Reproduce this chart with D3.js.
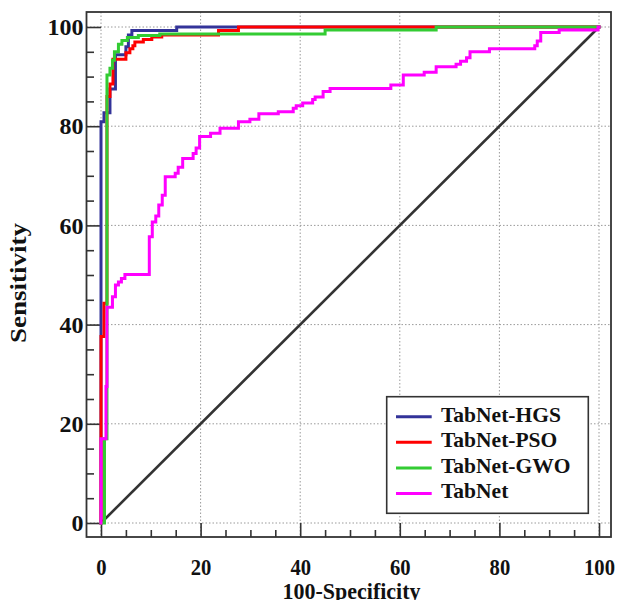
<!DOCTYPE html>
<html>
<head>
<meta charset="utf-8">
<script src="https://cdn.jsdelivr.net/npm/d3@7"></script>
<style>
html,body{margin:0;padding:0;background:#fff;}
svg{display:block;}
text{font-family:"Liberation Serif","Times New Roman",serif;font-weight:bold;fill:#111;}
</style>
</head>
<body>
<svg id="chart" width="617" height="600"></svg>
<script>
// ---- data (100-Specificity, Sensitivity) step points ----
const seriesNames = ["TabNet-HGS", "TabNet-PSO", "TabNet-GWO", "TabNet"];
const seriesColors = ["#333399", "#ff0000", "#33cc33", "#ff00ff"];

const hgsX = [0, 0.6, 1.8, 2.9, 5.0, 5.5, 6.2, 15.2, 100];
const hgsY = [0, 80.9, 82.7, 87.5, 94.4, 96, 98.4, 99.3, 100];

const psoX = [0, 0.6, 1.2, 1.8, 2.4, 5.0, 5.8, 6.4, 6.8, 8.5, 10.2, 12.2, 23.6, 27.6, 100];
const psoY = [0, 37.6, 44.3, 86, 88.5, 93.5, 94.8, 95.6, 96.2, 97, 97.5, 98, 98.4, 99.3, 100];

const gwoX = [0, 0.7, 1.2, 1.8, 2.3, 2.7, 3.5, 4.2, 5.3, 7.5, 11.8, 45, 67.3, 100];
const gwoY = [0, 0, 17, 90.3, 91.7, 93.3, 95, 96.5, 97.3, 97.9, 98.3, 98.6, 99.4, 100];

const tabX = [0, 1.0, 1.2, 2.3, 2.9, 3.5, 4.1, 4.8, 9.7, 10.3, 11, 11.6, 12.3, 12.9, 14.9, 15.5, 16.4, 18.5, 19.1, 19.8,
              22, 23.9, 27.6, 29.9, 31.7, 35.6, 38.6, 39.2, 40.5, 42.5, 43, 44.6, 46, 58.2, 60.7, 64.9, 67.3, 71.3, 72.2, 73.4,
              74.1, 78, 87.1, 87.6, 88.3, 92, 99.8, 100];
const tabY = [0, 17, 27.5, 43.5, 45.6, 48, 48.6, 49.3, 50.1, 57.7, 60.7, 61.9, 64.1, 66.1, 69.8, 70.5, 71.7, 73.5, 74.5, 75.6,
              77.9, 78.6, 79.6, 80.9, 81.4, 82.5, 82.9, 83.6, 84.1, 84.7, 85.4, 85.9, 87, 87.6, 88.3, 90.3, 90.9, 92, 92.5, 93.1,
              93.8, 95, 95.6, 96.2, 97.2, 98.9, 99.4, 100];

const diagX = [0, 100];
const diagY = [0, 100];

const majorTicks = [0, 20, 40, 60, 80, 100];
const minorTicks = [5, 10, 15, 25, 30, 35, 45, 50, 55, 65, 70, 75, 85, 90, 95];
const xTitle = "100-Specificity";
const yTitle = "Sensitivity";

// ---- layout ----
const frame = {left: 86.5, top: 12, right: 611, bottom: 537};
const x = d3.scaleLinear().domain([0, 100]).range([101, 599]);
const y = d3.scaleLinear().domain([0, 100]).range([523, 27]);

const svg = d3.select("#chart");

// grid
const grid = svg.append("g").attr("stroke", "#9a9a9a").attr("stroke-width", 1).attr("stroke-dasharray", "1.5,2");
grid.selectAll("line.v").data(majorTicks).enter().append("line")
  .attr("x1", d => x(d)).attr("x2", d => x(d)).attr("y1", frame.top).attr("y2", frame.bottom);
grid.selectAll("line.h").data(majorTicks).enter().append("line")
  .attr("y1", d => y(d)).attr("y2", d => y(d)).attr("x1", frame.left).attr("x2", frame.right);

// axes (ticks pointing inward from the frame)
const yAxisMajor = d3.axisLeft(y).tickValues(majorTicks).tickSize(-(x(0) - frame.left)).tickPadding(3);
const yAxisMinor = d3.axisLeft(y).tickValues(minorTicks).tickSize(-7.5).tickFormat("");
const xAxisMajor = d3.axisBottom(x).tickValues(majorTicks).tickSize(-(frame.bottom - y(0))).tickPadding(21);
const xAxisMinor = d3.axisBottom(x).tickValues(minorTicks).tickSize(-7).tickFormat("");

function styleAxis(g) {
  g.select(".domain").remove();
  g.selectAll(".tick line").attr("stroke", "#333").attr("stroke-width", 1.6);
  g.selectAll(".tick text").style("font-family", "'Liberation Serif','Times New Roman',serif")
    .style("font-weight", "bold").style("font-size", "24px").attr("fill", "#111");
}

svg.append("g").attr("transform", `translate(${frame.left},0)`).call(yAxisMajor).call(styleAxis);
svg.append("g").attr("transform", `translate(${frame.left},0)`).call(yAxisMinor).call(styleAxis);
const gx = svg.append("g").attr("transform", `translate(0,${frame.bottom})`).call(xAxisMajor).call(styleAxis);
gx.selectAll(".tick text").attr("transform", "scale(0.86,1)");
svg.append("g").attr("transform", `translate(0,${frame.bottom})`).call(xAxisMinor).call(styleAxis);

// frame
svg.append("rect").attr("x", frame.left).attr("y", frame.top)
  .attr("width", frame.right - frame.left).attr("height", frame.bottom - frame.top)
  .attr("fill", "none").attr("stroke", "#333").attr("stroke-width", 1.8);

// diagonal
const lineStraight = d3.line().x(d => x(d[0])).y(d => y(d[1]));
svg.append("path").datum(d3.zip(diagX, diagY)).attr("d", lineStraight)
  .attr("fill", "none").attr("stroke", "#333").attr("stroke-width", 2.6);

// ROC step curves
const stepLine = d3.line().x(d => x(d[0])).y(d => y(d[1])).curve(d3.curveStepBefore);
const curves = [d3.zip(hgsX, hgsY), d3.zip(psoX, psoY), d3.zip(gwoX, gwoY), d3.zip(tabX, tabY)];
curves.forEach((pts, i) => {
  svg.append("path").datum(pts).attr("d", stepLine)
    .attr("fill", "none").attr("stroke", seriesColors[i]).attr("stroke-width", 3)
    .attr("stroke-linejoin", "miter").attr("stroke-linecap", "square");
});

// legend
const lg = svg.append("g");
lg.append("rect").attr("x", 386.7).attr("y", 396.7).attr("width", 201.6).attr("height", 116.6)
  .attr("fill", "#fff").attr("stroke", "#333").attr("stroke-width", 1.6);
seriesNames.forEach((name, i) => {
  const cy = 416.7 + i * 25.6;
  lg.append("line").attr("x1", 396).attr("x2", 431.7).attr("y1", cy).attr("y2", cy)
    .attr("stroke", seriesColors[i]).attr("stroke-width", 3);
  lg.append("text").attr("x", 441).attr("y", cy + 4.8).style("font-size", "21.5px").text(name);
});

// titles
svg.append("text").attr("x", 351.5).attr("y", 599).attr("text-anchor", "middle")
  .style("font-size", "24px").attr("textLength", 138).attr("lengthAdjust", "spacingAndGlyphs").text(xTitle);
svg.append("text").attr("transform", "translate(26,283) rotate(-90)").attr("text-anchor", "middle")
  .style("font-size", "24px").attr("textLength", 120).attr("lengthAdjust", "spacingAndGlyphs").text(yTitle);
</script>
</body>
</html>
